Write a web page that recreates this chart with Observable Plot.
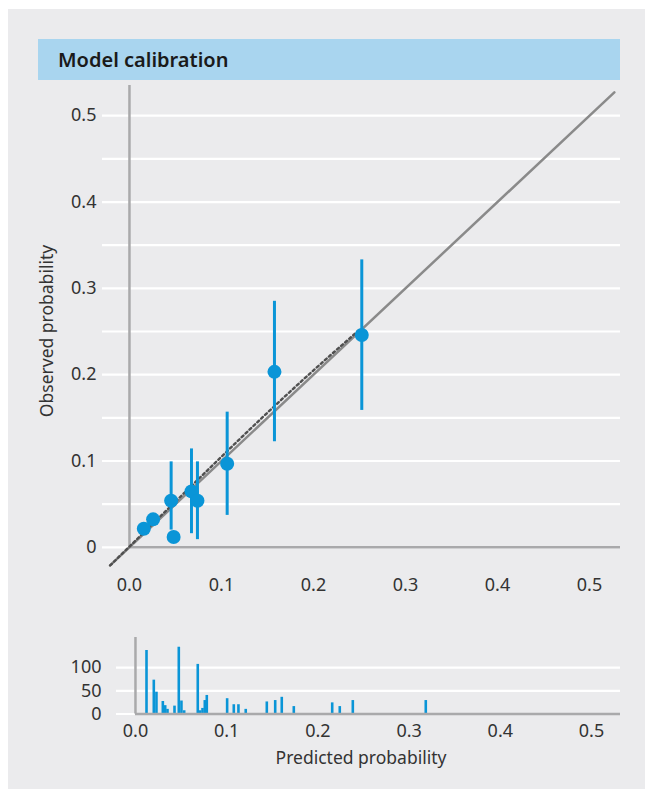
<!DOCTYPE html>
<html>
<head>
<meta charset="utf-8">
<script src="https://cdn.jsdelivr.net/npm/d3@7"></script>
<script src="https://cdn.jsdelivr.net/npm/@observablehq/plot@0.6"></script>
<style>
  html, body { margin: 0; padding: 0; background: #ffffff; }
  body { width: 645px; height: 789px; position: relative; overflow: hidden; font-family: "Noto Sans", sans-serif; }
  #panel { position: absolute; left: 8px; top: 9px; width: 637px; height: 780px; background: #ebebed; }
  #titlebar { position: absolute; left: 38px; top: 39px; width: 582px; height: 41px; background: #a9d5ef; }
  #titlebar span { position: absolute; left: 20px; top: 0; line-height: 41px; font-size: 20px; font-weight: 600; color: #1a1a1a; }
  #main { position: absolute; left: 0; top: 80px; }
  #hist { position: absolute; left: 0; top: 620px; }
  #ylab { position: absolute; left: -54px; top: 319px; width: 200px; height: 24px; line-height: 24px; text-align: center;
          font-size: 17.5px; color: #333; transform: rotate(-90deg); white-space: nowrap; }
  #xlab { position: absolute; left: 211px; top: 747px; width: 300px; line-height: 20px; text-align: center;
          font-size: 17.5px; color: #333; white-space: nowrap; }
</style>
</head>
<body>
<div id="panel"></div>
<div id="titlebar"><span>Model calibration</span></div>
<div id="main"></div>
<div id="hist"></div>
<div id="ylab">Observed probability</div>
<div id="xlab">Predicted probability</div>
<script>
// ---- Calibration groups ----
const predicted = [0.0156, 0.0257, 0.0453, 0.048, 0.0674, 0.0739, 0.1062, 0.1576, 0.2525];
const observed  = [0.0216, 0.0324, 0.054, 0.012, 0.0648, 0.054, 0.0968, 0.2033, 0.246];
const lower     = [0.016, 0.028, 0.020, 0.006, 0.0158, 0.0089, 0.037, 0.1223, 0.1586];
const upper     = [0.027, 0.037, 0.099, 0.018, 0.114, 0.099, 0.1566, 0.285, 0.333];

// ---- Reference diagonal and smoothed fit ----
const diagX = [-0.021, 0.527];
const diagY = [-0.021, 0.527];
const smoothX = [-0.021, 0.05, 0.1, 0.15, 0.2, 0.25];
const smoothY = [-0.021, 0.053, 0.105, 0.156, 0.205, 0.252];

// ---- Histogram of predicted probabilities ----
const histX = [0.0121, 0.0201, 0.0230, 0.0300, 0.0326, 0.0351, 0.0428, 0.0475, 0.0504, 0.0534,
               0.0683, 0.0709, 0.0735, 0.0760, 0.0782, 0.1005, 0.1078, 0.1129, 0.1209, 0.1440,
               0.1532, 0.1604, 0.1736, 0.2157, 0.2240, 0.2383, 0.3183];
const histN = [137, 73, 47, 27, 18, 10, 17, 144, 28, 7,
               107, 7, 12, 29, 40, 33, 20, 20, 10, 26,
               29, 36, 16, 24, 16, 29, 29];

// ---- Ticks ----
const xTicks = [0, 0.1, 0.2, 0.3, 0.4, 0.5];
const yTicks = [0, 0.1, 0.2, 0.3, 0.4, 0.5];
const yGrid = [0, 0.05, 0.1, 0.15, 0.2, 0.25, 0.3, 0.35, 0.4, 0.45, 0.5];
const hTicks = [0, 50, 100];

const blue = "#0a95d7";
const axisGray = "#a9a9ab";
const textColor = "#333333";

const xDom = [-0.0293, 0.5337];
const yDom = [-0.028, 0.535];

const groups = predicted.map((p, i) => ({p, o: observed[i], lo: lower[i], hi: upper[i]}));
const diag = diagX.map((x, i) => ({x, y: diagY[i]}));
const smooth = smoothX.map((x, i) => ({x, y: smoothY[i]}));
const hist = histX.map((x, i) => ({x, n: histN[i]}));

const main = Plot.plot({
  width: 645,
  height: 530,
  marginLeft: 102,
  marginRight: 25,
  marginTop: 5,
  marginBottom: 39,
  x: {domain: xDom},
  y: {domain: yDom},
  style: {background: "transparent", fontFamily: "Noto Sans", fontSize: "18px", color: textColor, overflow: "visible"},
  marks: [
    Plot.ruleY(yGrid, {stroke: "#ffffff", strokeWidth: 2.2}),
    Plot.ruleX([0], {y1: 0, y2: yDom[1], stroke: axisGray, strokeWidth: 2.5}),
    Plot.ruleY([0], {x1: 0, x2: xDom[1], stroke: axisGray, strokeWidth: 2.5}),
    Plot.line(diag, {x: "x", y: "y", stroke: "#8a8a8a", strokeWidth: 2.5}),
    Plot.line(smooth, {x: "x", y: "y", stroke: "#505050", strokeWidth: 2.4, strokeDasharray: "2.4,3", curve: "monotone-x"}),
    Plot.ruleX(groups, {x: "p", y1: "lo", y2: "hi", stroke: blue, strokeWidth: 3}),
    Plot.dot(groups, {x: "p", y: "o", r: 7, fill: blue, stroke: "none"}),
    Plot.axisX(xTicks, {tickSize: 0, tickPadding: 7, tickFormat: d => d.toFixed(1), label: null}),
    Plot.axisY(yTicks, {tickSize: 0, tickPadding: 6, tickFormat: d => d === 0 ? "0" : d.toFixed(1), label: null})
  ]
});
document.getElementById("main").appendChild(main);

const hxDom = [-0.0208, 0.5318];
const hyDom = [0, 165];

const histPlot = Plot.plot({
  width: 645,
  height: 160,
  marginLeft: 116,
  marginRight: 25,
  marginTop: 17,
  marginBottom: 66.5,
  x: {domain: hxDom},
  y: {domain: hyDom},
  style: {background: "transparent", fontFamily: "Noto Sans", fontSize: "18px", color: textColor, overflow: "visible"},
  marks: [
    Plot.ruleY(hTicks, {stroke: "#ffffff", strokeWidth: 2.2}),
    Plot.ruleX(hist, {x: "x", y1: 0, y2: "n", stroke: blue, strokeWidth: 2.6}),
    Plot.ruleX([0], {y1: 0, y2: hyDom[1], stroke: axisGray, strokeWidth: 2.5}),
    Plot.ruleY([0], {x1: 0, x2: hxDom[1], stroke: axisGray, strokeWidth: 2.5}),
    Plot.axisX(xTicks, {tickSize: 0, tickPadding: 10, tickFormat: d => d.toFixed(1), label: null}),
    Plot.axisY(hTicks, {tickSize: 0, tickPadding: 15, label: null})
  ]
});
document.getElementById("hist").appendChild(histPlot);
</script>
</body>
</html>
